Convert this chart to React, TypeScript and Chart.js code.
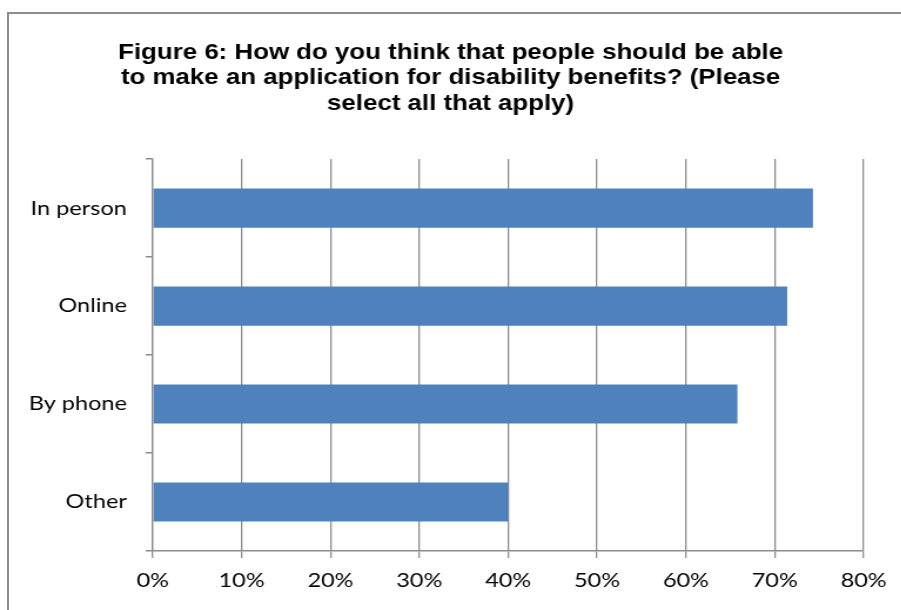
import React, { useEffect, useRef } from "react";
import { Chart, registerables } from "chart.js";

Chart.register(...registerables);

const categories = ["In person", "Online", "By phone", "Other"];
const values = [74.3, 71.4, 65.8, 40.0];
const xTicks = [0, 10, 20, 30, 40, 50, 60, 70, 80];
const titleLines = [
  "Figure 6: How do you think that people should be able",
  "to make an application for disability benefits? (Please",
  "select all that apply)",
];

const STRETCH = 1.175;
const CANVAS_W = 767;
const CANVAS_H = 610;

export default function App() {
  const ref = useRef<HTMLCanvasElement | null>(null);

  useEffect(() => {
    if (!ref.current) return;
    const chart = new Chart(ref.current, {
      type: "bar",
      data: {
        labels: categories,
        datasets: [
          {
            data: values,
            backgroundColor: "#4F81BD",
            borderWidth: 0,
            barPercentage: 0.4,
            categoryPercentage: 1,
          },
        ],
      },
      options: {
        indexAxis: "y",
        animation: false,
        responsive: false,
        maintainAspectRatio: false,
        layout: { padding: { top: 0, left: 0, right: 0, bottom: 0 } },
        plugins: {
          legend: { display: false },
          tooltip: { enabled: false },
          title: {
            display: true,
            text: titleLines,
            color: "#000",
            font: { family: "'Liberation Sans', Arial, sans-serif", size: 22, weight: "bold", lineHeight: 1.16 },
            padding: { top: 40, bottom: 42.5 },
          },
        },
        scales: {
          x: {
            type: "linear",
            min: 0,
            max: 80,
            afterBuildTicks: (s: any) => {
              s.ticks = xTicks.map((v) => ({ value: v }));
            },
            afterFit: (s: any) => {
              s.height = 59;
            },
            ticks: {
              color: "#000",
              font: { family: "Lato, 'Open Sans', sans-serif", size: 20 },
              padding: 11,
              callback: (v: any) => `${v}%`,
            },
            grid: {
              color: "#8c8c8c",
              lineWidth: 1.3,
              tickLength: 7,
              drawTicks: true,
            },
            border: { color: "#8c8c8c", width: 1.5 },
          },
          y: {
            type: "category",
            afterFit: (s: any) => {
              s.width = 130;
            },
            ticks: {
              color: "#000",
              font: { family: "Lato, 'Open Sans', sans-serif", size: 20 },
              padding: 16,
            },
            grid: {
              offset: true,
              drawOnChartArea: false,
              color: "#8c8c8c",
              lineWidth: 1.5,
              tickLength: 6,
            },
            border: { color: "#8c8c8c", width: 1.3 },
          },
          yRight: {
            type: "category",
            position: "right",
            afterFit: (s: any) => {
              s.width = 32;
            },
            ticks: { display: false },
            grid: { display: false, drawTicks: false },
            border: { display: false },
          },
        },
      },
    });
    return () => chart.destroy();
  }, []);

  return (
    <div
      style={{
        position: "fixed",
        left: 0,
        top: 0,
        width: 901,
        height: 610,
        overflow: "hidden",
        background: "#fff",
      }}
    >
      <div
        style={{
          position: "absolute",
          left: 7,
          top: 12,
          width: 1000,
          height: 1000,
          border: "2px solid #8c8c8c",
        }}
      />
      <canvas
        ref={ref}
        width={CANVAS_W}
        height={CANVAS_H}
        style={{
          position: "absolute",
          left: 0,
          top: 0,
          width: CANVAS_W,
          height: CANVAS_H,
          transform: `scaleX(${STRETCH})`,
          transformOrigin: "0 0",
        }}
      />
    </div>
  );
}
